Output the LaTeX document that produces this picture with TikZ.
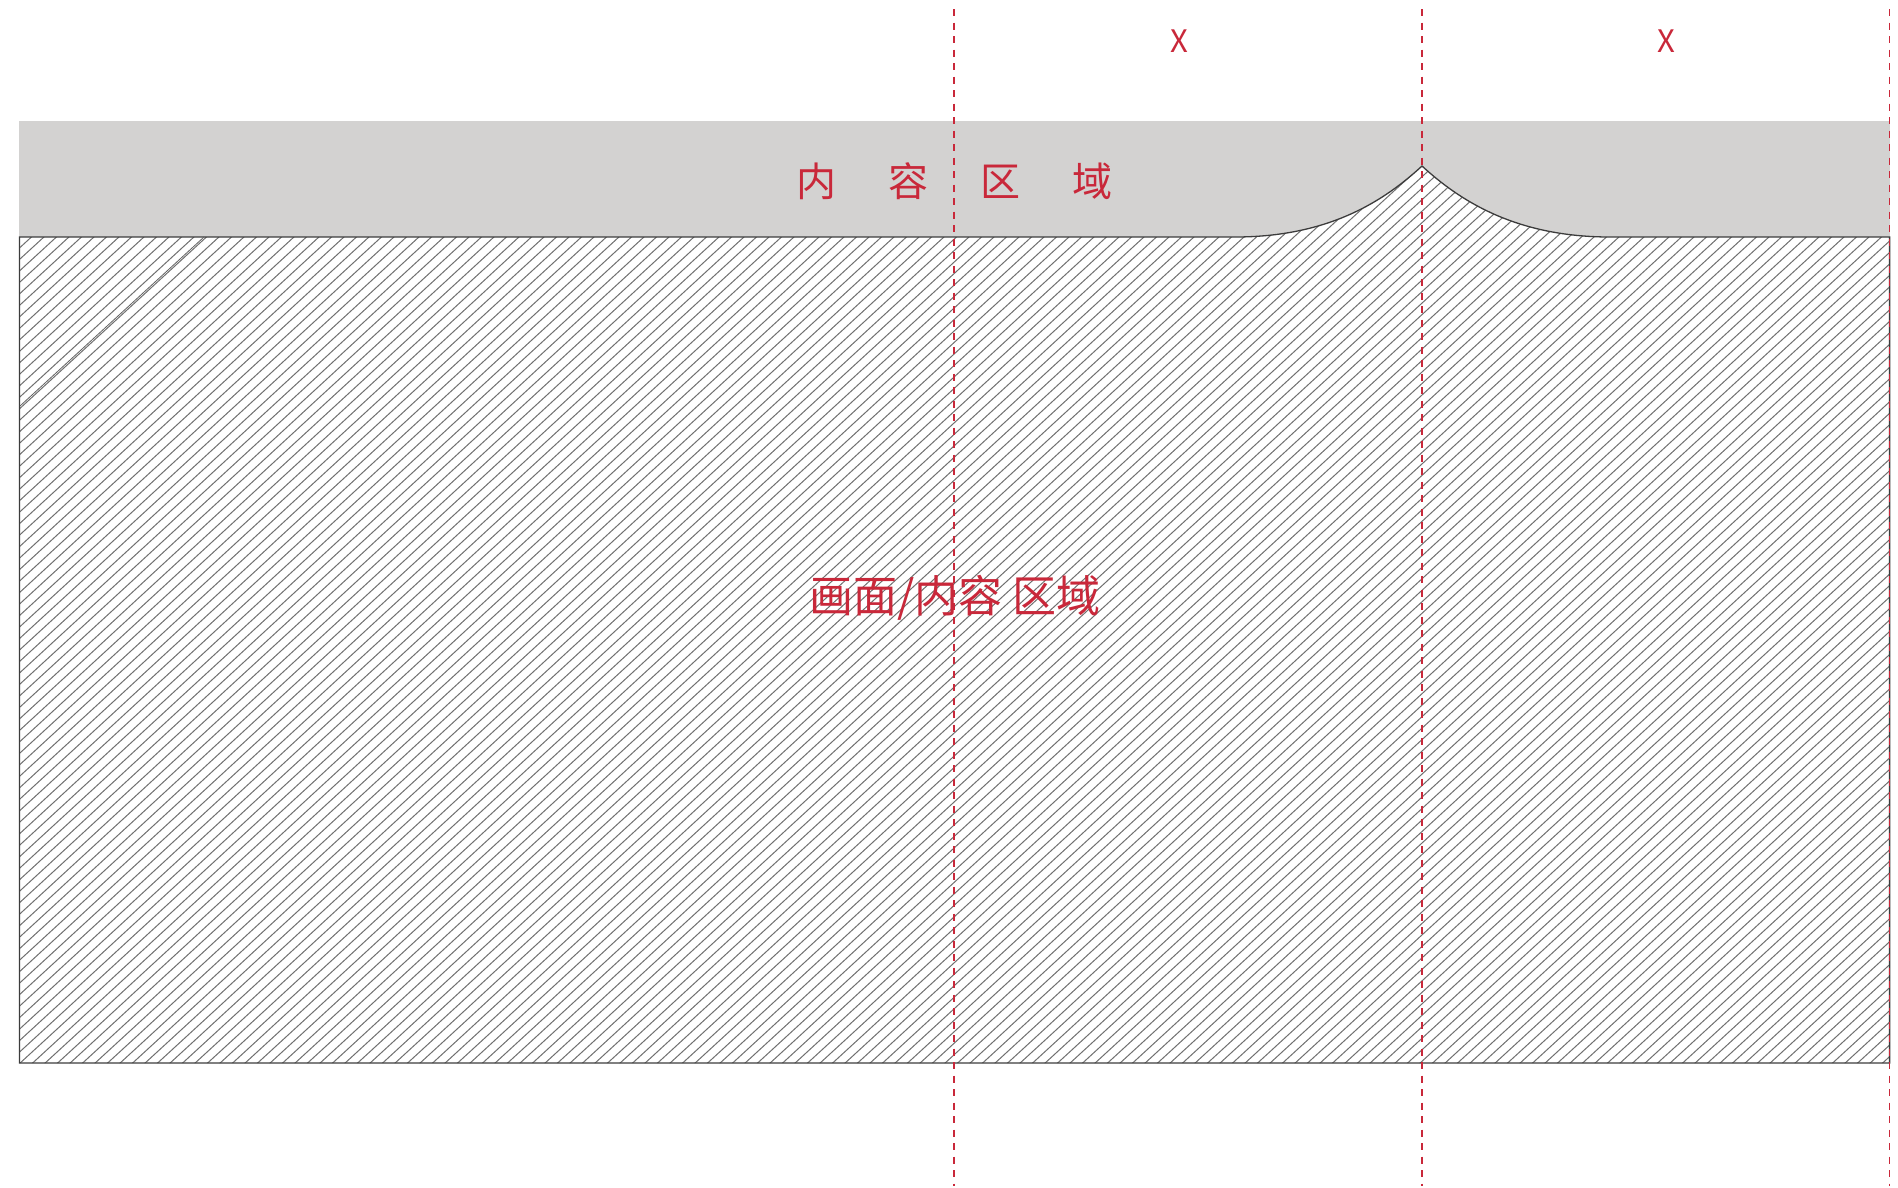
\documentclass[tikz,border=0pt]{standalone}
\usepackage{fontspec}
\newfontfamily\cjk{Noto Sans CJK SC}
\definecolor{bandgray}{HTML}{D3D2D1}
\definecolor{markred}{HTML}{C9283A}
\definecolor{hatchgray}{HTML}{707070}
\definecolor{edgegray}{HTML}{3C3C3C}
\tikzset{
  guide/.style={draw=markred, line width=1.6pt, dash pattern=on 7pt off 6.5pt},
  redlabel/.style={text=markred, font=\cjk, inner sep=0pt},
  hatchline/.style={draw=hatchgray, line width=1pt},
  outline/.style={draw=edgegray, line width=1.3pt}
}
\begin{document}
\begin{tikzpicture}[x=1pt,y=-1pt]
\useasboundingbox (0,0) rectangle (1898,1187);
% gray band
\fill[bandgray] (19.4,121) rectangle (1889.6,237);
% hatched region
\begin{scope}
  \clip (19.4,237) -- (1235,237) .. controls (1330,237) and (1385,200) .. (1422,166)
        .. controls (1459,200) and (1515,237) .. (1610,237) -- (1889.6,237)
        -- (1889.6,1063) -- (19.4,1063) -- cycle;
  \fill[white] (0,0) rectangle (1898,1187);
  \foreach \i in {0,...,240} {
    \pgfmathsetmacro{\xs}{-1000+12.5*\i}
    \draw[hatchline] (\xs,1070) -- ++(1000,-919);
  }
\end{scope}
\draw[outline] (19.4,237) -- (1235,237) .. controls (1330,237) and (1385,200) .. (1422,166)
        .. controls (1459,200) and (1515,237) .. (1610,237) -- (1889.6,237)
        -- (1889.6,1063) -- (19.4,1063) -- cycle;
% extra diagonal line
\coordinate (da) at (20,406);
\coordinate (db) at (204,237);
\draw[draw=edgegray!80, line width=0.8pt] (da) -- (db);
% guides
\coordinate (g1t) at (954,9);   \coordinate (g1b) at (954,1186);
\coordinate (g2t) at (1422,9);  \coordinate (g2b) at (1422,1186);
\coordinate (g3t) at (1889.6,9);\coordinate (g3b) at (1889.6,1186);
\draw[guide] (g1t) -- (g1b);
\draw[guide] (g2t) -- (g2b);
\draw[guide] (g3t) -- (g3b);
% labels
\node[redlabel, font=\cjk\fontsize{40}{40}\selectfont] (title) at (954,181)
  {内\hspace{52pt}容\hspace{52pt}区\hspace{52pt}域};
\node[redlabel, font=\cjk\fontsize{44}{44}\selectfont] (center) at (955,598)
  {画面/内容 区域};
\node[redlabel, font=\cjk\fontsize{31}{31}\selectfont] (xa) at (1179,41) {X};
\node[redlabel, font=\cjk\fontsize{31}{31}\selectfont] (xb) at (1666,41) {X};
\end{tikzpicture}
\end{document}
